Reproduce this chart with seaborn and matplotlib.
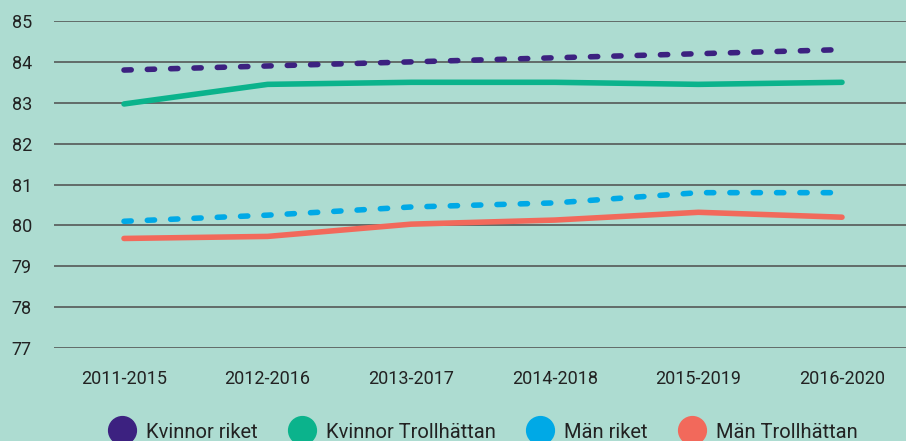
import pandas as pd
import matplotlib.pyplot as plt
import seaborn as sns
from matplotlib.lines import Line2D

## data
periods = ['2011-2015', '2012-2016', '2013-2017', '2014-2018', '2015-2019', '2016-2020']
kvinnor_riket = [83.8, 83.9, 84.0, 84.1, 84.2, 84.3]
kvinnor_trollhattan = [82.97, 83.45, 83.5, 83.5, 83.45, 83.5]
man_riket = [80.1, 80.25, 80.45, 80.55, 80.8, 80.8]
man_trollhattan = [79.68, 79.73, 80.03, 80.13, 80.32, 80.2]

series_names = ['Kvinnor riket', 'Kvinnor Trollhättan', 'Män riket', 'Män Trollhättan']
series_values = [kvinnor_riket, kvinnor_trollhattan, man_riket, man_trollhattan]
colors = ['#3c2180', '#0bb38c', '#00a9e6', '#f2695b']
bg = '#addcd1'

## long-form table
rows = []
for name, vals in zip(series_names, series_values):
    for i, (p, v) in enumerate(zip(periods, vals)):
        rows.append({'period': p, 'pos': i, 'series': name, 'value': v})
df = pd.DataFrame(rows)

sns.set_style('white')
plt.rcParams['font.family'] = ['Roboto', 'DejaVu Sans']

fig = plt.figure(figsize=(9.06, 4.41), dpi=100, facecolor=bg)
ax = fig.add_axes([54 / 906, 1 - 348 / 441, 852 / 906, 327 / 441])
ax.set_facecolor(bg)

## gridlines
for y in range(77, 86):
    ax.axhline(y, color='#4d4d4d', lw=1.1, zorder=0)

dashes = {'Kvinnor riket': (1.3, 2.9), 'Kvinnor Trollhättan': '',
          'Män riket': (1.3, 2.9), 'Män Trollhättan': ''}
sns.lineplot(data=df, x='pos', y='value', hue='series', style='series',
             hue_order=series_names, palette=colors, dashes=dashes,
             linewidth=4.0, legend=False, ax=ax, zorder=3)
for line in ax.get_lines():
    line.set_dash_capstyle('round')
    line.set_solid_capstyle('round')

ax.set_xlim(-70 / 143.6, 5 + 64 / 143.6)
ax.set_ylim(77, 85)
ax.set_xticks(range(len(periods)))
ax.set_xticklabels(periods)
ax.set_yticks(range(77, 86))
ax.tick_params(axis='both', length=0, labelsize=13, colors='#222222')
ax.tick_params(axis='y', pad=16)
ax.tick_params(axis='x', pad=16)
ax.set_xlabel('')
ax.set_ylabel('')
sns.despine(ax=ax, left=True, bottom=True, top=True, right=True)

## legend with round markers
handles = [Line2D([], [], marker='o', linestyle='', markersize=20,
                  markerfacecolor=c, markeredgecolor=c) for c in colors]
fig.legend(handles, series_names, loc='center', ncol=4, frameon=False,
           bbox_to_anchor=(483 / 906, 1 - 432 / 441), fontsize=14.5,
           handlelength=1.4, handletextpad=0.5, columnspacing=1.5,
           labelcolor='#222222')

plt.savefig('out.png', dpi=100, facecolor=bg)
